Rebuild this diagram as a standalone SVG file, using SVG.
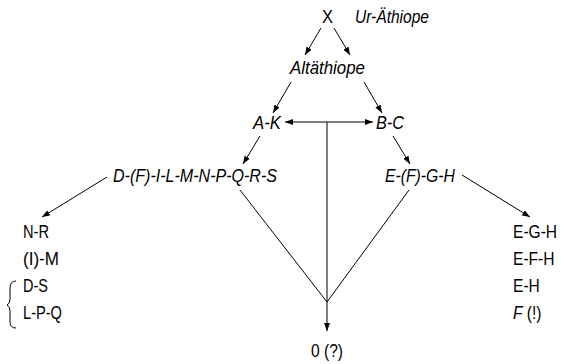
<svg xmlns="http://www.w3.org/2000/svg" width="562" height="364" viewBox="0 0 562 364">
<defs>
<marker id="ah" viewBox="0 0 8 6" refX="8" refY="3" markerWidth="8" markerHeight="6" orient="auto-start-reverse" markerUnits="userSpaceOnUse">
<path d="M0,0 L8,3 L0,6 z" fill="#000"/>
</marker>
<style>
text{font-family:"Liberation Sans",Arial,sans-serif;font-size:19px;fill:#000}
.i{font-style:italic}
line,path.c{stroke:#000;stroke-width:1;fill:none}
.a{marker-end:url(#ah)}
</style>
</defs>
<rect width="562" height="364" fill="#fff"/>
<g id="connectors">
<line class="a" x1="321" y1="28" x2="305" y2="55"/>
<line class="a" x1="334" y1="28" x2="350" y2="55"/>
<line class="a" x1="291" y1="82" x2="273" y2="113"/>
<line class="a" x1="364" y1="82" x2="382" y2="113"/>
<line class="a" x1="285" y1="122" x2="373" y2="122" style="marker-start:url(#ah)"/>
<line x1="327" y1="122" x2="327" y2="302"/>
<line class="a" x1="260" y1="136" x2="243" y2="164"/>
<line class="a" x1="393" y1="136" x2="410" y2="164"/>
<line x1="240" y1="190" x2="327" y2="302"/>
<line x1="409" y1="190" x2="327" y2="302"/>
<line class="a" x1="327" y1="302" x2="327" y2="331"/>
<line class="a" x1="107" y1="177" x2="42" y2="217"/>
<line class="a" x1="462" y1="175" x2="530" y2="217"/>
<path class="c" d="M16,281 Q10,281 10,288 L10,299 Q10,304 7,305 Q10,306 10,311 L10,322 Q10,328 16,328"/>
</g>
<g id="X"><text x="322" y="23" textLength="11" lengthAdjust="spacingAndGlyphs">X</text></g>
<g id="urathiope"><text class="i" x="355" y="23" textLength="74" lengthAdjust="spacingAndGlyphs">Ur-Äthiope</text></g>
<g id="altathiope"><text class="i" x="290" y="74" textLength="75" lengthAdjust="spacingAndGlyphs">Altäthiope</text></g>
<g id="AK"><text class="i" x="253" y="129" textLength="28" lengthAdjust="spacingAndGlyphs">A-K</text></g>
<g id="BC"><text class="i" x="376" y="129" textLength="28" lengthAdjust="spacingAndGlyphs">B-C</text></g>
<g id="D"><text class="i" x="113" y="182" textLength="164" lengthAdjust="spacingAndGlyphs">D-(F)-I-L-M-N-P-Q-R-S</text></g>
<g id="E"><text class="i" x="385" y="182" textLength="70" lengthAdjust="spacingAndGlyphs">E-(F)-G-H</text></g>
<g id="O"><text x="311" y="357" textLength="32" lengthAdjust="spacingAndGlyphs">0 (?)</text></g>
<g id="left">
<text x="23" y="238" textLength="26" lengthAdjust="spacingAndGlyphs">N-R</text>
<text x="23" y="265" textLength="36" lengthAdjust="spacingAndGlyphs">(I)-M</text>
<text x="23" y="292" textLength="25" lengthAdjust="spacingAndGlyphs">D-S</text>
<text x="23" y="319" textLength="39" lengthAdjust="spacingAndGlyphs">L-P-Q</text>
</g>
<g id="right" transform="translate(513,0) scale(0.82,1)">
<text x="0" y="238">E-G-H</text>
<text x="0" y="265">E-F-H</text>
<text x="0" y="292">E-H</text>
<text x="0" y="319"><tspan class="i">F</tspan> (!)</text>
</g>
</svg>
